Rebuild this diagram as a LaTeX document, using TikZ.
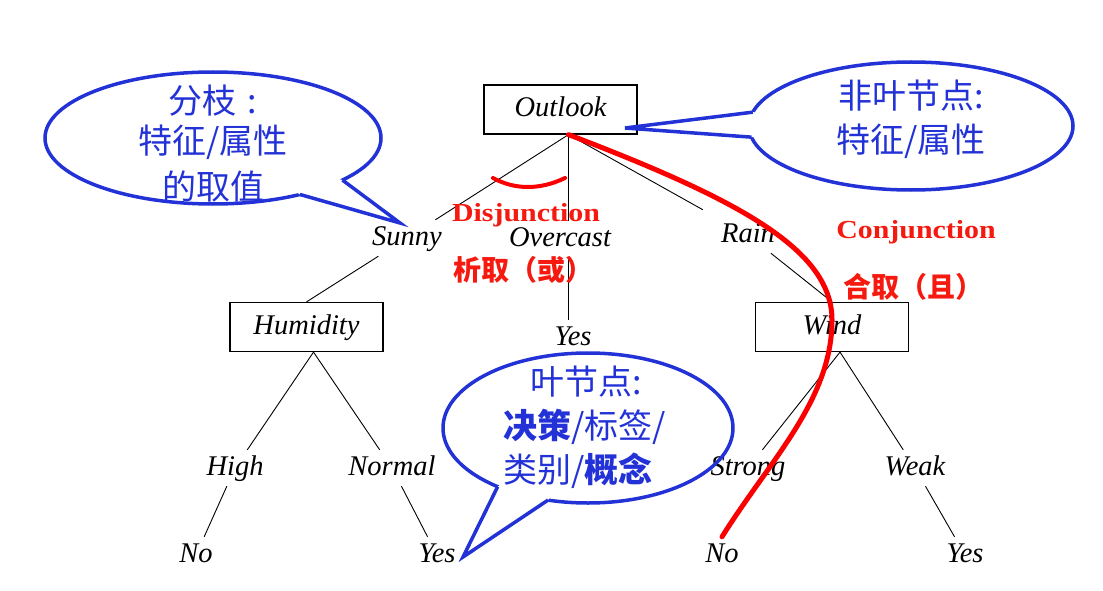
\documentclass[tikz,border=0pt]{standalone}
\usepackage{fontspec}
\setmainfont{Liberation Serif}
\newfontfamily\cjkfont{Noto Sans CJK SC}
\newfontfamily\lsfont[FakeStretch=1.15]{Liberation Serif}
\usetikzlibrary{shapes.geometric,calc}
\definecolor{noteblue}{RGB}{35,50,215}
\definecolor{cutred}{RGB}{250,0,0}
\definecolor{wordred}{RGB}{245,25,15}

\tikzset{
  attrbox/.style={draw, line width=1.2pt, minimum width=153, minimum height=49, inner sep=0pt,
    font=\fontsize{28.5}{30}\selectfont\itshape, text height=20pt, text depth=6pt},
  valname/.style={inner sep=5pt, font=\fontsize{28.5}{30}\selectfont\itshape, text height=20pt, text depth=6pt},
  branch/.style={line width=0.9pt},
  callout/.style={ellipse, draw=noteblue, line width=3.5pt, inner sep=0pt, outer sep=0pt},
  calltail/.style={draw=noteblue, line width=3.5pt, line join=miter},
  notetext/.style={text=noteblue, inner sep=0pt, font=\cjkfont\fontsize{34}{40}\selectfont},
  redword/.style={text=wordred, inner sep=0pt, font=\lsfont\bfseries\fontsize{26}{28}\selectfont},
  redcjk/.style={text=wordred, inner sep=0pt, font=\cjkfont\bfseries\fontsize{28}{30}\selectfont},
  cut/.style={draw=cutred, line width=5pt, line cap=round},
}

\begin{document}
\begin{tikzpicture}[x=1pt, y=-1pt]
  \useasboundingbox (0,0) rectangle (1103,591);

  % the tree
  \node[attrbox] (outlook) at (560.5,109.5) {Outlook};
  \coordinate (root) at ([xshift=8]outlook.south);

  \node[valname] (sunny) at (407,238) {Sunny};
  \node[valname] (overcast) at (560,239) {Overcast};
  \node[valname] (rain) at (748,235) {Rain};

  \node[attrbox] (humidity) at (306.5,327) {Humidity};
  \node[valname] (midyes) at (573,338) {Yes};
  \node[attrbox] (wind) at (832,327) {Wind};

  \node[valname] (high) at (235,468) {High};
  \node[valname] (normal) at (392,468) {Normal};
  \node[valname] (strong) at (748,468) {Strong};
  \node[valname] (weak) at (915,468) {Weak};

  \node[valname] (highno) at (196,555) {No};
  \node[valname] (normalyes) at (437,555) {Yes};
  \node[valname] (strongno) at (722,555) {No};
  \node[valname] (weakyes) at (965,555) {Yes};

  \draw[branch] (root) -- (sunny);
  \draw[branch] (root) -- (root |- overcast.north);
  \draw[branch, shorten >=15pt] (root) -- (rain);
  \draw[branch] (sunny) -- (humidity.north);
  \draw[branch] (overcast.south -| root) -- (root |- midyes.north);
  \draw[branch] (rain) -- (wind.north);
  \draw[branch] ([xshift=7]humidity.south) -- (high);
  \draw[branch] ([xshift=7]humidity.south) -- (normal);
  \draw[branch] ([xshift=8]wind.south) -- (strong);
  \draw[branch] ([xshift=8]wind.south) -- (weak);
  \draw[branch] (high) -- (highno);
  \draw[branch] (normal) -- (normalyes);
  \draw[branch] (weak) -- (weakyes);

  % disjunction / conjunction
  \draw[cut, line width=4pt] (493,178) .. controls (515,190) and (540,190) .. (565,178);
  \draw[cut] (root) .. controls (740,200) and (832,250) .. (832,320)
    .. controls (832,400) and (770,460) .. (strongno.north);

  \node[redword, anchor=base] (disjword) at (526,221) {Disjunction};
  \node[redcjk] (disjcn) at (523,270) {析取（或）};
  \node[redword, anchor=base] (conjword) at (916,238) {Conjunction};
  \node[redcjk] (conjcn) at (913,287) {合取（且）};

  % callouts
  \node[callout, minimum width=336, minimum height=132] (branchnote) at (213,138) {};
  \coordinate (branchtip) at (400,223);
  \fill[white] (branchnote.-18) -- (branchtip) -- (branchnote.-33)
    -- ($(branchnote.-33)!3pt!(branchnote.center)$) -- ($(branchnote.-18)!3pt!(branchnote.center)$) -- cycle;
  \draw[calltail] (branchnote.-18) -- (branchtip) -- (branchnote.-33);
  \node[notetext, align=center] (branchtext) at (213,144) {分枝\hspace{11pt}:\\特征/属性\\[6pt]的取值};

  \node[callout, minimum width=324, minimum height=128] (attrnote) at (911,126) {};
  \coordinate (attrtip) at (625,128);
  \fill[white] (attrnote.175.4) -- (attrtip) -- (attrnote.184.8)
    -- ($(attrnote.184.8)!4pt!(attrnote.center)$) -- ($(attrnote.175.4)!4pt!(attrnote.center)$) -- cycle;
  \draw[calltail] (attrnote.175.4) -- (attrtip) -- (attrnote.184.8);
  \node[notetext, align=center] (attrtext) at (911,119) {非叶节点:\\[4pt]特征/属性};

  \node[callout, minimum width=290, minimum height=150] (leafnote) at (588,428) {};
  \coordinate (leaftip) at (463,557);
  \fill[white] (leafnote.213.7) -- (leaftip) -- (leafnote.241.6)
    -- ($(leafnote.241.6)!3pt!(leafnote.center)$) -- ($(leafnote.213.7)!3pt!(leafnote.center)$) -- cycle;
  \draw[calltail] (leafnote.213.7) -- (leaftip) -- (leafnote.241.6);
  \node[notetext, align=left, anchor=west] (leaftext) at (503,427)
    {\hspace*{27pt}叶节点:\\[4pt]{\bfseries 决策}/标签/\\[4pt]类别/{\bfseries 概念}};
\end{tikzpicture}
\end{document}
